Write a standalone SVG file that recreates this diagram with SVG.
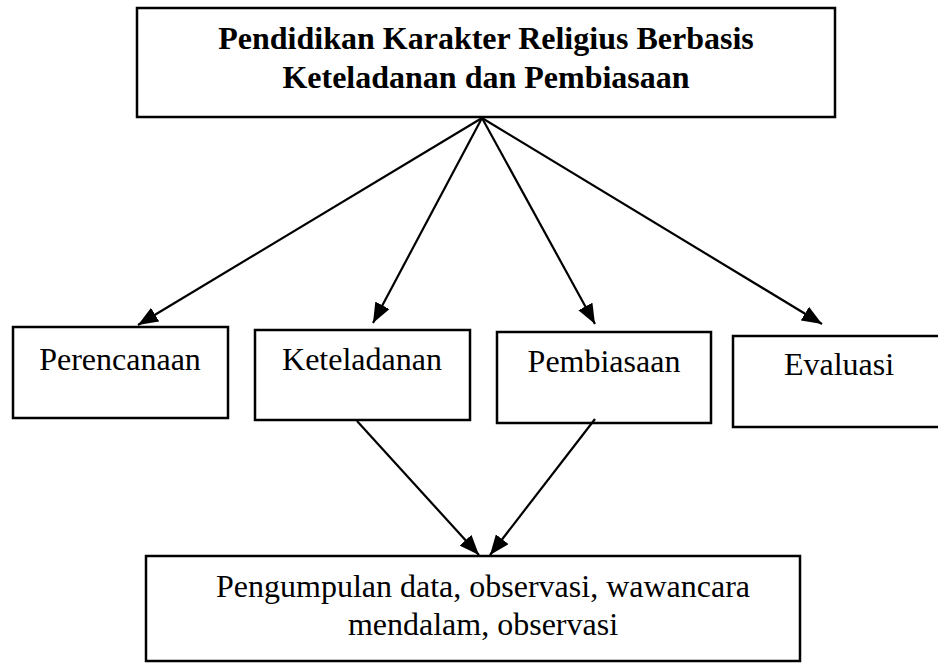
<svg xmlns="http://www.w3.org/2000/svg" width="938" height="664" viewBox="0 0 938 664">
<style>
.box{fill:#fff;stroke:#000;stroke-width:2.5}
.t{font-family:"Liberation Serif","Times New Roman",serif;fill:#000;text-anchor:middle}
.b{font-weight:bold;font-size:32px}
.n{font-size:32px}
</style>
<defs>
<marker id="arr" viewBox="0 0 20 16" refX="20" refY="8" markerWidth="20" markerHeight="16" orient="auto" markerUnits="userSpaceOnUse">
<path d="M0,0 L20,8 L0,16 Z" fill="#000"/>
</marker>
</defs>
<rect width="938" height="664" fill="#fff"/>
<g id="top">
<rect class="box" x="137" y="8" width="698" height="109" stroke-width="3"/>
<text class="t b" x="486" y="49">Pendidikan Karakter Religius Berbasis</text>
<text class="t b" x="486" y="88">Keteladanan dan Pembiasaan</text>
</g>
<g id="perencanaan">
<rect class="box" x="13" y="327" width="215" height="91"/>
<text class="t n" x="120" y="370">Perencanaan</text>
</g>
<g id="keteladanan">
<rect class="box" x="255" y="330" width="215" height="90"/>
<text class="t n" x="362" y="370">Keteladanan</text>
</g>
<g id="pembiasaan">
<rect class="box" x="497" y="332" width="214" height="91"/>
<text class="t n" x="604" y="372">Pembiasaan</text>
</g>
<g id="evaluasi">
<rect class="box" x="733" y="336" width="212" height="91"/>
<text class="t n" x="839" y="375">Evaluasi</text>
</g>
<g id="pengumpulan">
<rect class="box" x="146" y="556" width="654" height="105"/>
<text class="t n" x="483" y="597">Pengumpulan data, observasi, wawancara</text>
<text class="t n" x="483" y="635">mendalam, observasi</text>
</g>
<g id="connectors" stroke="#000" stroke-width="2.2" fill="none">
<line x1="482" y1="118" x2="138" y2="325" marker-end="url(#arr)"/>
<line x1="482" y1="118" x2="373" y2="323" marker-end="url(#arr)"/>
<line x1="482" y1="118" x2="595" y2="324" marker-end="url(#arr)"/>
<line x1="482" y1="118" x2="822" y2="324" marker-end="url(#arr)"/>
<line x1="357" y1="421" x2="479" y2="555" marker-end="url(#arr)"/>
<line x1="595" y1="419" x2="490" y2="555" marker-end="url(#arr)"/>
</g>
</svg>
